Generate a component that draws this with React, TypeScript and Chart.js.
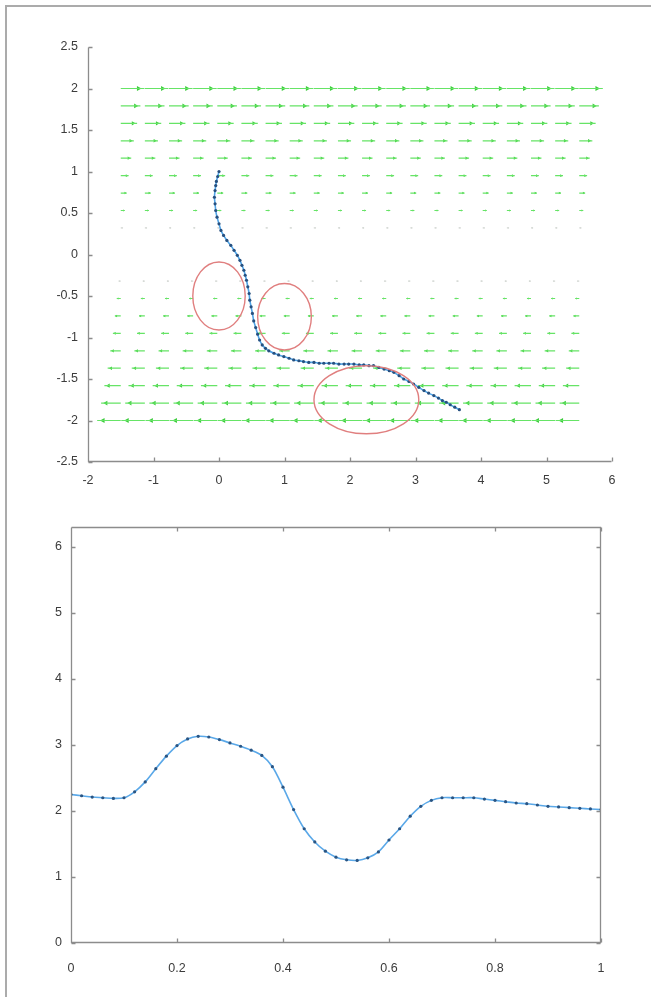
import React, { useEffect, useRef } from 'react';
import { Chart, registerables } from 'chart.js';
Chart.register(...registerables);

// ---------- Top chart data ----------
const TOP_X_TICKS = [-2, -1, 0, 1, 2, 3, 4, 5, 6];
const TOP_Y_TICKS = [-2.5, -2, -1.5, -1, -0.5, 0, 0.5, 1, 1.5, 2, 2.5];

// quiver grid: column base positions, row heights, horizontal component per row
const QUIVER_X = [-1.5, -1.132, -0.763, -0.395, -0.026, 0.342, 0.711, 1.079, 1.447, 1.816, 2.184, 2.553, 2.921, 3.289, 3.658, 4.026, 4.395, 4.763, 5.132, 5.5];
const QUIVER_Y = [2.0, 1.79, 1.58, 1.37, 1.16, 0.95, 0.74, 0.53, 0.32, -0.32, -0.53, -0.74, -0.95, -1.16, -1.37, -1.58, -1.79, -2.0];
const QUIVER_U = [0.36, 0.3, 0.25, 0.2, 0.16, 0.12, 0.09, 0.06, 0.03, -0.03, -0.06, -0.09, -0.12, -0.16, -0.2, -0.25, -0.3, -0.36];

// trajectory
const PATH_X = [0.0, -0.02, -0.04, -0.05, -0.06, -0.07, -0.06, -0.05, -0.03, 0.0, 0.03, 0.07, 0.12, 0.18, 0.23, 0.28, 0.32, 0.35, 0.38, 0.4, 0.42, 0.44, 0.46, 0.47, 0.49, 0.51, 0.53, 0.56, 0.59, 0.62, 0.66, 0.71, 0.76, 0.84, 0.91, 0.99, 1.07, 1.14, 1.22, 1.29, 1.37, 1.45, 1.53, 1.6, 1.68, 1.75, 1.83, 1.91, 1.98, 2.06, 2.14, 2.21, 2.29, 2.36, 2.44, 2.52, 2.6, 2.67, 2.75, 2.82, 2.9, 2.97, 3.05, 3.13, 3.2, 3.28, 3.35, 3.41, 3.47, 3.53, 3.6, 3.67];
const PATH_Y = [1.0, 0.94, 0.88, 0.83, 0.77, 0.69, 0.61, 0.53, 0.45, 0.37, 0.29, 0.23, 0.17, 0.11, 0.05, -0.01, -0.07, -0.13, -0.19, -0.25, -0.31, -0.39, -0.47, -0.55, -0.63, -0.71, -0.8, -0.88, -0.96, -1.03, -1.09, -1.13, -1.16, -1.19, -1.21, -1.23, -1.25, -1.27, -1.28, -1.29, -1.3, -1.3, -1.31, -1.31, -1.31, -1.31, -1.32, -1.32, -1.32, -1.32, -1.33, -1.33, -1.34, -1.34, -1.36, -1.38, -1.4, -1.42, -1.46, -1.5, -1.53, -1.56, -1.6, -1.64, -1.67, -1.7, -1.73, -1.76, -1.78, -1.81, -1.84, -1.87];

// red ellipses (data units)
const ELLIPSE_CX = [0.0, 1.0, 2.25];
const ELLIPSE_CY = [-0.5, -0.75, -1.75];
const ELLIPSE_RX = [0.4, 0.41, 0.8];
const ELLIPSE_RY = [0.41, 0.4, 0.41];

// ---------- Bottom chart data ----------
const BOT_X_TICKS = [0, 0.2, 0.4, 0.6, 0.8, 1];
const BOT_Y_TICKS = [0, 1, 2, 3, 4, 5, 6];
const SPEED_T = [0, 0.02, 0.04, 0.06, 0.08, 0.1, 0.12, 0.14, 0.16, 0.18, 0.2, 0.22, 0.24, 0.26, 0.28, 0.3, 0.32, 0.34, 0.36, 0.38, 0.4, 0.42, 0.44, 0.46, 0.48, 0.5, 0.52, 0.54, 0.56, 0.58, 0.6, 0.62, 0.64, 0.66, 0.68, 0.7, 0.72, 0.74, 0.76, 0.78, 0.8, 0.82, 0.84, 0.86, 0.88, 0.9, 0.92, 0.94, 0.96, 0.98, 1.0];
const SPEED_V = [2.25, 2.23, 2.21, 2.2, 2.19, 2.2, 2.29, 2.44, 2.64, 2.83, 2.99, 3.09, 3.13, 3.12, 3.08, 3.03, 2.98, 2.92, 2.84, 2.67, 2.36, 2.02, 1.73, 1.53, 1.39, 1.3, 1.26, 1.25, 1.29, 1.38, 1.56, 1.73, 1.92, 2.07, 2.16, 2.2, 2.2, 2.2, 2.2, 2.18, 2.16, 2.14, 2.12, 2.11, 2.09, 2.07, 2.06, 2.05, 2.04, 2.03, 2.02];

// ---------- styles ----------
const FONT = { family: '"Liberation Sans", Arial, Helvetica, sans-serif', size: 12.5 };
const TICK_COLOR = '#3c3c3c';
const AXIS_COLOR = '#8c8c8c';

function axesPlugin(box: boolean) {
  return {
    id: 'matlabAxes' + (box ? 'Box' : ''),
    afterDatasetsDraw(chart: any) {
      const { ctx, chartArea: a, scales } = chart;
      const L = Math.round(a.left) + 0.5, R = Math.round(a.right) - 0.5;
      const T = Math.round(a.top) + 0.5, B = Math.round(a.bottom) - 0.5;
      ctx.save();
      ctx.strokeStyle = AXIS_COLOR;
      ctx.lineWidth = 1.3;
      ctx.beginPath();
      ctx.moveTo(L, T); ctx.lineTo(L, B); ctx.lineTo(R, B);
      if (box) { ctx.lineTo(R, T); ctx.lineTo(L, T); }
      const tk = 4;
      for (const t of scales.x.ticks) {
        const p = Math.round(scales.x.getPixelForValue(t.value)) + 0.5;
        ctx.moveTo(p, B); ctx.lineTo(p, B - tk);
        if (box) { ctx.moveTo(p, T); ctx.lineTo(p, T + tk); }
      }
      for (const t of scales.y.ticks) {
        const p = Math.round(scales.y.getPixelForValue(t.value)) + 0.5;
        ctx.moveTo(L, p); ctx.lineTo(L + tk, p);
        if (box) { ctx.moveTo(R, p); ctx.lineTo(R - tk, p); }
      }
      ctx.stroke();
      ctx.restore();
    },
  };
}

const ellipsePlugin = {
  id: 'ellipses',
  afterDatasetsDraw(chart: any) {
    const { ctx, scales } = chart;
    const sx = scales.x, sy = scales.y;
    ctx.save();
    ctx.strokeStyle = '#e07f7f';
    ctx.lineWidth = 1.4;
    for (let i = 0; i < ELLIPSE_CX.length; i++) {
      const cx = sx.getPixelForValue(ELLIPSE_CX[i]);
      const cy = sy.getPixelForValue(ELLIPSE_CY[i]);
      const rx = Math.abs(sx.getPixelForValue(ELLIPSE_CX[i] + ELLIPSE_RX[i]) - cx);
      const ry = Math.abs(sy.getPixelForValue(ELLIPSE_CY[i] + ELLIPSE_RY[i]) - cy);
      ctx.beginPath();
      ctx.ellipse(cx, cy, rx, ry, 0, 0, Math.PI * 2);
      ctx.stroke();
    }
    ctx.restore();
  },
};

function scaleOpts(min: number, max: number, ticks: number[], fitKey: 'width' | 'height', fitVal: number, pad: number) {
  return {
    type: 'linear' as const,
    min, max,
    grid: { display: false },
    border: { display: false },
    afterBuildTicks: (s: any) => { s.ticks = ticks.map((v) => ({ value: v })); },
    afterFit: (s: any) => { s[fitKey] = fitVal; },
    ticks: {
      font: FONT, color: TICK_COLOR, padding: pad, autoSkip: false, maxRotation: 0,
      callback: (v: any) => String(v),
    },
  };
}

export default function App() {
  const topRef = useRef<HTMLCanvasElement>(null);
  const botRef = useRef<HTMLCanvasElement>(null);

  useEffect(() => {
    const datasets: any[] = [];
    datasets.push({
      label: 'path',
      data: PATH_X.map((x, i) => ({ x, y: PATH_Y[i] })),
      borderColor: '#4fa3e6',
      borderWidth: 1.6,
      pointRadius: 1.6,
      pointBackgroundColor: '#27507f',
      pointBorderWidth: 0,
      tension: 0.2,
      order: 0,
    });
    QUIVER_Y.forEach((y, r) => {
      const u = QUIVER_U[r];
      const small = Math.abs(y) < 0.4;
      const seg: any[] = [];
      const heads: any[] = [];
      QUIVER_X.forEach((x) => {
        seg.push({ x, y }, { x: x + u, y }, { x: x + u, y: null });
        heads.push({ x: x + u * 0.75, y });
      });
      datasets.push({
        data: seg,
        borderColor: small ? '#d4d8d4' : '#66e466',
        borderWidth: 1.2,
        pointRadius: 0,
        spanGaps: false,
        tension: 0,
        order: 2,
      });
      datasets.push({
        data: heads,
        showLine: false,
        pointStyle: 'triangle',
        rotation: u > 0 ? 90 : -90,
        pointRadius: small ? 1 : Math.min(3, 0.9 + Math.abs(u) * 6),
        pointBackgroundColor: small ? '#cfd3cf' : '#3ccc3c',
        pointBorderWidth: 0,
        order: 2,
      });
    });

    const top = new Chart(topRef.current!, {
      type: 'line',
      data: { datasets },
      options: {
        animation: false,
        responsive: false,
        layout: { padding: { left: 0, right: 39, top: 47, bottom: 0 } },
        plugins: { legend: { display: false }, tooltip: { enabled: false } },
        scales: {
          x: scaleOpts(-2, 6, TOP_X_TICKS, 'height', 38, 3) as any,
          y: scaleOpts(-2.5, 2.5, TOP_Y_TICKS, 'width', 88, 2) as any,
        },
      },
      plugins: [ellipsePlugin, axesPlugin(false)],
    });

    const bot = new Chart(botRef.current!, {
      type: 'line',
      data: {
        datasets: [{
          data: SPEED_T.map((t, i) => ({ x: t, y: SPEED_V[i] })),
          borderColor: '#5aa8e8',
          borderWidth: 1.6,
          pointRadius: 1.6,
          pointBackgroundColor: '#2a5583',
          pointBorderWidth: 0,
          tension: 0.3,
        }],
      },
      options: {
        animation: false,
        responsive: false,
        layout: { padding: { left: 0, right: 50, top: 27, bottom: 0 } },
        plugins: { legend: { display: false }, tooltip: { enabled: false } },
        scales: {
          x: scaleOpts(0, 1, BOT_X_TICKS, 'height', 54, 10) as any,
          y: scaleOpts(0, 6.3, BOT_Y_TICKS, 'width', 71, 1) as any,
        },
      },
      plugins: [axesPlugin(true)],
    });

    return () => { top.destroy(); bot.destroy(); };
  }, []);

  return (
    <div style={{ position: 'fixed', left: 0, top: 0, width: 651, height: 997, background: '#fff', overflow: 'hidden' }}>
      <div style={{ position: 'absolute', left: 5, top: 5, width: 800, height: 1200, borderLeft: '2px solid #ababab', borderTop: '2px solid #ababab' }} />
      <canvas ref={topRef} width={651} height={500} style={{ position: 'absolute', left: 0, top: 0, width: 651, height: 500 }} />
      <canvas ref={botRef} width={651} height={497} style={{ position: 'absolute', left: 0, top: 500, width: 651, height: 497 }} />
    </div>
  );
}
